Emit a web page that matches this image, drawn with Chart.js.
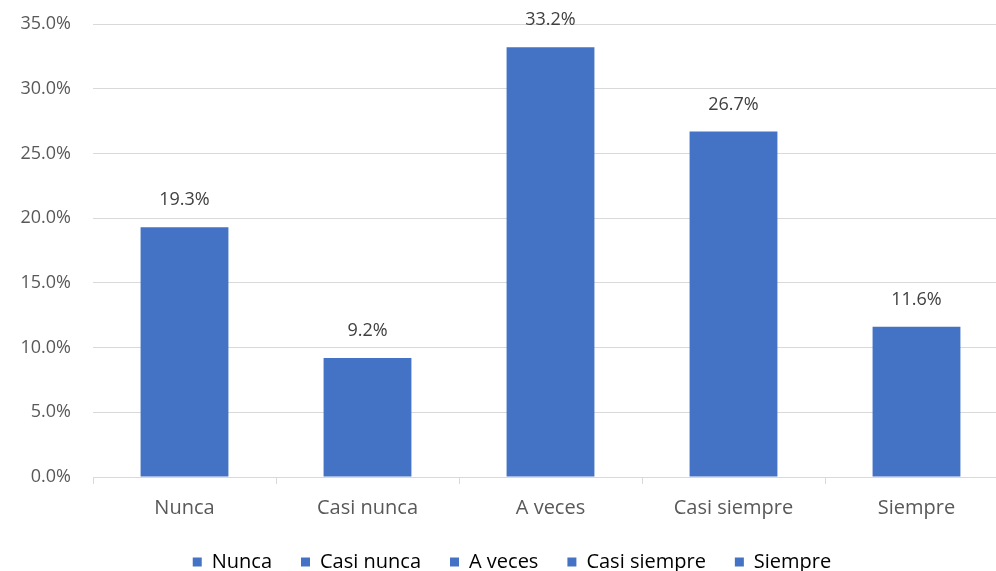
<!DOCTYPE html>
<html>
<head>
<meta charset="utf-8">
<script src="https://cdn.jsdelivr.net/npm/chart.js@4/dist/chart.umd.min.js"></script>
<style>
    html, body { margin: 0; padding: 0; background: #fff; overflow: hidden; }
    #wrap { position: relative; width: 1012px; height: 571px; }
</style>
</head>
<body>
<div id="wrap"><canvas id="freqChart"></canvas></div>
<script>
// Datos del gráfico
const categories = ['Nunca', 'Casi nunca', 'A veces', 'Casi siempre', 'Siempre'];
const percentValues = [19.3, 9.2, 33.2, 26.7, 11.6];
const yTicks = [0, 5, 10, 15, 20, 25, 30, 35];

const barColor = '#4472C4';
const textColor = '#595959';
const gridColor = '#D9D9D9';

// Etiquetas de valor sobre cada barra
const valueLabels = {
    id: 'valueLabels',
    afterDatasetsDraw(chart) {
        const ctx = chart.ctx;
        const meta = chart.getDatasetMeta(0);
        ctx.save();
        ctx.font = '18px "Open Sans"';
        ctx.fillStyle = '#404040';
        ctx.textAlign = 'center';
        ctx.textBaseline = 'middle';
        meta.data.forEach((bar, i) => {
            ctx.fillText(percentValues[i].toFixed(1) + '%', bar.x, bar.y - 27);
        });
        ctx.restore();
    }
};

new Chart(document.getElementById('freqChart'), {
    type: 'bar',
    data: {
        labels: categories,
        datasets: [{
            label: 'Porcentaje',
            data: percentValues,
            backgroundColor: barColor,
            borderWidth: 0,
            categoryPercentage: 1,
            barPercentage: 0.48
        }]
    },
    options: {
        responsive: true,
        maintainAspectRatio: false,
        animation: false,
        layout: {
            padding: { top: 24, left: 16, right: 4, bottom: -11 }
        },
        plugins: {
            tooltip: { enabled: false },
            legend: {
                position: 'bottom',
                onClick: null,
                labels: {
                    boxWidth: 9,
                    boxHeight: 9,
                    padding: 29,
                    color: textColor,
                    font: { family: 'Open Sans', size: 20 },
                    generateLabels: () => categories.map((c, i) => ({
                        text: c,
                        fillStyle: barColor,
                        strokeStyle: barColor,
                        lineWidth: 0,
                        hidden: false,
                        index: i
                    }))
                }
            }
        },
        scales: {
            x: {
                grid: {
                    display: true,
                    drawOnChartArea: false,
                    drawTicks: true,
                    tickLength: 7,
                    color: gridColor
                },
                border: { display: true, color: gridColor, width: 1 },
                ticks: {
                    padding: 12,
                    color: textColor,
                    font: { family: 'Open Sans', size: 20 }
                },
                afterFit: (scale) => { scale.height = 46; }
            },
            y: {
                min: 0,
                max: 35,
                afterBuildTicks: (scale) => { scale.ticks = yTicks.map(v => ({ value: v })); },
                grid: { color: gridColor, drawTicks: false },
                border: { display: false },
                ticks: {
                    padding: 22,
                    color: textColor,
                    font: { family: 'Open Sans', size: 18 },
                    callback: (v) => v.toFixed(1) + '%'
                },
                afterFit: (scale) => {
                    scale.width = 77;
                    scale.paddingTop = 0;
                    scale.paddingBottom = 0;
                }
            }
        }
    },
    plugins: [valueLabels]
});
</script>
</body>
</html>
